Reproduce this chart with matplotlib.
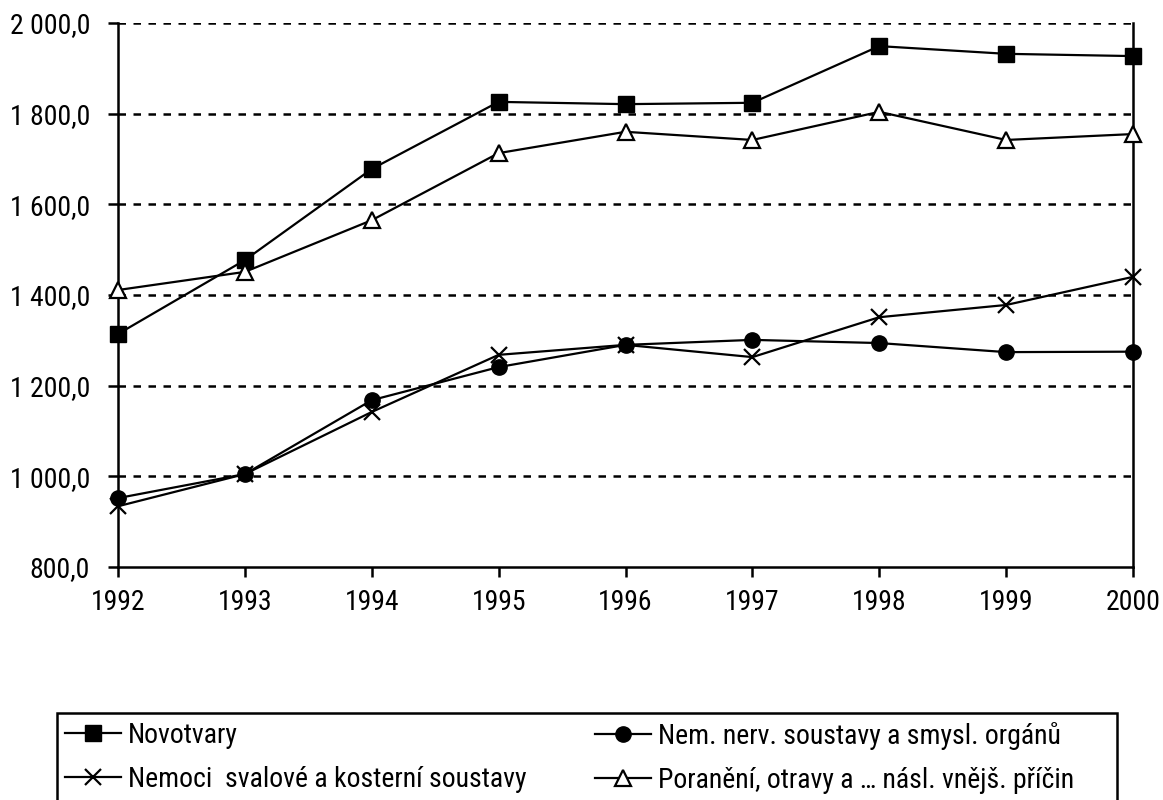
import matplotlib
matplotlib.use("Agg")
import matplotlib.pyplot as plt
from matplotlib.patches import Rectangle
from matplotlib import font_manager

years = [1992, 1993, 1994, 1995, 1996, 1997, 1998, 1999, 2000]
novotvary = [1314, 1477, 1678, 1826, 1821, 1824, 1949, 1932, 1927]
nem_nerv = [952, 1005, 1168, 1241, 1290, 1301, 1294, 1274, 1275]
nemoci_sval = [934, 1005, 1142, 1268, 1290, 1263, 1351, 1378, 1440]
poraneni = [1411, 1451, 1565, 1713, 1760, 1742, 1804, 1742, 1755]

labels = ["Novotvary", "Nem. nerv. soustavy a smysl. orgánů",
          "Nemoci  svalové a kosterní soustavy", "Poranění, otravy a … násl. vnějš. příčin"]
y_ticks = [800, 1000, 1200, 1400, 1600, 1800, 2000]
y_ticklabels = ["800,0", "1 000,0", "1 200,0", "1 400,0", "1 600,0", "1 800,0", "2 000,0"]

names = {f.name for f in font_manager.fontManager.ttflist}
fam = "Liberation Sans"
for cand in ["Arial Narrow", "Liberation Sans Narrow", "Roboto Condensed", "Arimo Narrow",
             "PT Sans Narrow", "Archivo Narrow"]:
    if cand in names:
        fam = cand
        break
plt.rcParams['font.family'] = [fam, 'DejaVu Sans']
FS = 20 if fam != "Liberation Sans" else 17

W, H = 1163, 800
fig = plt.figure(figsize=(W / 100, H / 100), dpi=100)
ax = fig.add_axes([118 / W, 1 - 567 / H, (1133 - 118) / W, (567 - 23) / H])

lw = 1.6
ms = 11
h1, = ax.plot(years, novotvary, color='black', lw=lw, marker='s', ms=ms, mfc='black', mec='black', clip_on=False, zorder=5)
h2, = ax.plot(years, nem_nerv, color='black', lw=lw, marker='o', ms=ms, mfc='black', mec='black', clip_on=False, zorder=5)
h3, = ax.plot(years, nemoci_sval, color='black', lw=lw, marker='x', ms=ms, mew=1.6, mec='black', clip_on=False, zorder=5)
h4, = ax.plot(years, poraneni, color='black', lw=lw, marker='^', ms=ms, mfc='white', mec='black', mew=1.6, clip_on=False, zorder=5)

ax.set_xlim(1992, 2000)
ax.set_ylim(800, 2000)
ax.set_yticks(y_ticks)
ax.set_yticklabels(y_ticklabels)
ax.set_xticks(years)
ax.set_xticklabels([str(y) for y in years])

for yv in y_ticks[1:]:
    ax.axhline(yv, color='black', lw=1.8, ls=(0, (3, 3)), zorder=1)

ax.spines['top'].set_visible(False)
for s in ['left', 'bottom', 'right']:
    ax.spines[s].set_linewidth(1.8)
    ax.spines[s].set_color('black')

ax.tick_params(axis='both', direction='out', width=1.8, length=7, labelsize=FS, colors='black')
ax.tick_params(axis='x', pad=9)
ax.tick_params(axis='y', pad=13)

# legend frame
fig.patches.append(Rectangle((57 / W, -0.02), (1117 - 57) / W, (1 - 713 / H) + 0.02,
                             transform=fig.transFigure, fill=False, edgecolor='black', lw=1.8, clip_on=False))
common = dict(loc='upper left', frameon=False, fontsize=FS, handlelength=2.0, handletextpad=0.25,
              labelspacing=0.6, borderaxespad=0, borderpad=0)
leg1 = fig.legend([h1, h3], [labels[0], labels[2]],
                  bbox_to_anchor=(65 / W, 1 - 722 / H), **common)
leg2 = fig.legend([h2, h4], [labels[1], labels[3]],
                  bbox_to_anchor=(595 / W, 1 - 722 / H), **common)

fig.savefig("out.png", dpi=100)
